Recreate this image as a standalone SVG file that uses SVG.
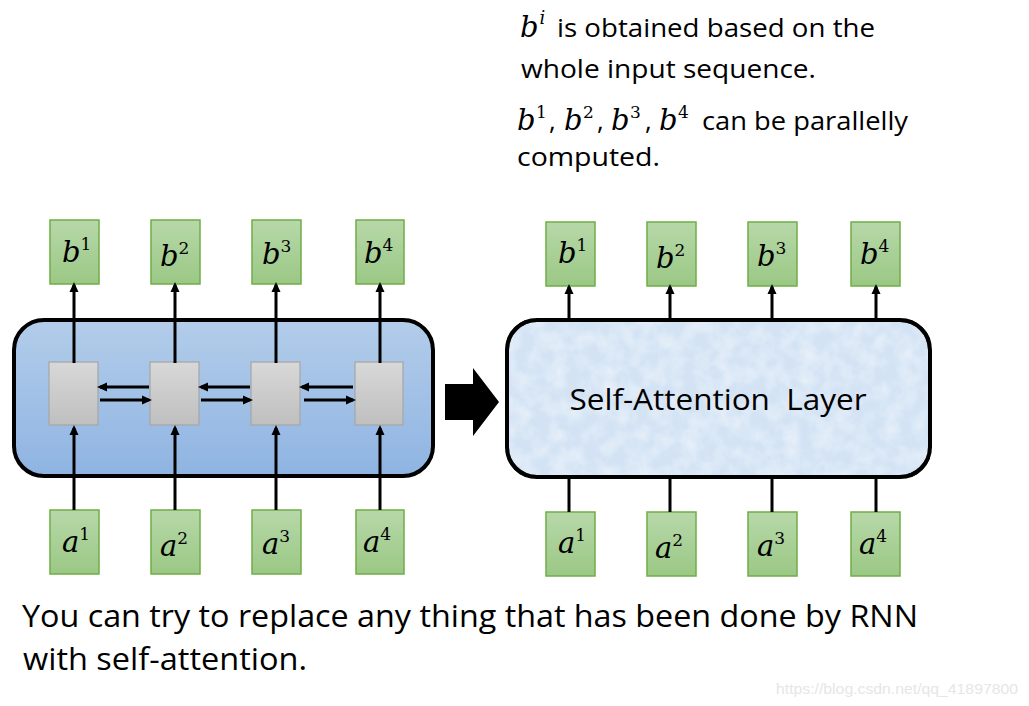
<svg xmlns="http://www.w3.org/2000/svg" width="1029" height="706" viewBox="0 0 1029 706">
<defs>
<linearGradient id="gGreen" x1="0" y1="0" x2="0" y2="1"><stop offset="0" stop-color="#b7d8a9"/><stop offset="1" stop-color="#9bc885"/></linearGradient>
<linearGradient id="gGray" x1="0" y1="0" x2="0" y2="1"><stop offset="0" stop-color="#d8d8d8"/><stop offset="1" stop-color="#bfbfbf"/></linearGradient>
<linearGradient id="gBlue" x1="0" y1="0" x2="0" y2="1"><stop offset="0" stop-color="#b3cdea"/><stop offset="1" stop-color="#8fb4e2"/></linearGradient>
<filter id="tex" x="0" y="0" width="1" height="1">
<feTurbulence type="fractalNoise" baseFrequency="0.06" numOctaves="3" seed="4" result="n"/>
<feColorMatrix in="n" type="matrix" values="0 0 0 0 0.95  0 0 0 0 0.97  0 0 0 0 1  0 0 0 0.9 -0.3" result="w"/>
<feComposite in="w" in2="SourceGraphic" operator="in" result="wc"/>
<feMerge><feMergeNode in="SourceGraphic"/><feMergeNode in="wc"/></feMerge>
</filter>
<marker id="ah" markerUnits="userSpaceOnUse" markerWidth="10" markerHeight="10" viewBox="0 0 10 10" refX="7" refY="5" orient="auto"><path d="M0,0.5 L10,5 L0,9.5 z" fill="#000"/></marker>
</defs>
<style>
.gb{fill:url(#gGreen);stroke:#70ad47;stroke-width:1.5}
.gr{fill:url(#gGray);stroke:#a6a6a6;stroke-width:1.2}
.m{font-family:"DejaVu Serif","Liberation Serif",serif;font-style:italic;font-size:29px;fill:#000}
.sp{font-style:normal;font-size:17px}
.spi{font-style:italic;font-size:18px}
.ln{stroke:#000;stroke-width:3;fill:none}
.arr{stroke:#000;stroke-width:3;fill:none;marker-end:url(#ah)}
.t{font-family:"Open Sans","Noto Sans",sans-serif;fill:#000}
</style>
<rect width="1029" height="706" fill="#fff"/>

<!-- left RNN block -->
<g id="rnn">
<rect x="14" y="320" width="419" height="156" rx="30" ry="30" fill="url(#gBlue)" stroke="#000" stroke-width="4"/>
</g>
<g id="r1"><rect class="gr" x="49" y="362" width="49" height="63"/></g>
<g id="r2"><rect class="gr" x="150" y="362" width="49" height="63"/></g>
<g id="r3"><rect class="gr" x="251" y="362" width="49" height="63"/></g>
<g id="r4"><rect class="gr" x="355" y="362" width="48" height="63"/></g>

<!-- self-attention block -->
<g id="sa">
<rect x="507" y="320" width="423" height="157" rx="30" ry="30" fill="#d3e3f4" stroke="#000" stroke-width="4" filter="url(#tex)"/>
<rect x="507" y="320" width="423" height="157" rx="30" ry="30" fill="none" stroke="#000" stroke-width="4"/>
<text class="t" x="718" y="410" font-size="30" text-anchor="middle" textLength="297" lengthAdjust="spacingAndGlyphs">Self-Attention&#160; Layer</text>
</g>

<!-- big arrow -->
<g id="bigArrow"><path d="M445,384 L473,384 L473,368 L499,402 L473,436 L473,420 L445,420 Z" fill="#000"/></g>

<!-- left outputs -->
<g id="lb1"><rect class="gb" x="50" y="220" width="49" height="64"/><text class="m" x="62" y="262">b<tspan class="sp" dy="-12">1</tspan></text></g>
<g id="lb2"><rect class="gb" x="151" y="220" width="49" height="64"/><text class="m" x="160" y="266">b<tspan class="sp" dy="-12">2</tspan></text></g>
<g id="lb3"><rect class="gb" x="252" y="220" width="49" height="64"/><text class="m" x="262" y="264">b<tspan class="sp" dy="-12">3</tspan></text></g>
<g id="lb4"><rect class="gb" x="356" y="220" width="48" height="64"/><text class="m" x="364" y="263">b<tspan class="sp" dy="-12">4</tspan></text></g>
<!-- left inputs -->
<g id="la1"><rect class="gb" x="50" y="510" width="49" height="64"/><text class="m" x="62" y="552">a<tspan class="sp" dy="-12">1</tspan></text></g>
<g id="la2"><rect class="gb" x="151" y="510" width="49" height="64"/><text class="m" x="160" y="556">a<tspan class="sp" dy="-12">2</tspan></text></g>
<g id="la3"><rect class="gb" x="252" y="510" width="49" height="64"/><text class="m" x="262" y="554">a<tspan class="sp" dy="-12">3</tspan></text></g>
<g id="la4"><rect class="gb" x="356" y="510" width="48" height="64"/><text class="m" x="363" y="552">a<tspan class="sp" dy="-12">4</tspan></text></g>

<!-- right outputs -->
<g id="rb1"><rect class="gb" x="546" y="222" width="49" height="64"/><text class="m" x="558" y="263">b<tspan class="sp" dy="-12">1</tspan></text></g>
<g id="rb2"><rect class="gb" x="647" y="222" width="49" height="64"/><text class="m" x="656" y="268">b<tspan class="sp" dy="-12">2</tspan></text></g>
<g id="rb3"><rect class="gb" x="748" y="222" width="49" height="64"/><text class="m" x="757" y="266">b<tspan class="sp" dy="-12">3</tspan></text></g>
<g id="rb4"><rect class="gb" x="851" y="222" width="49" height="64"/><text class="m" x="860" y="264">b<tspan class="sp" dy="-12">4</tspan></text></g>
<!-- right inputs -->
<g id="ra1"><rect class="gb" x="546" y="512" width="49" height="64"/><text class="m" x="558" y="553">a<tspan class="sp" dy="-12">1</tspan></text></g>
<g id="ra2"><rect class="gb" x="647" y="512" width="49" height="64"/><text class="m" x="655" y="558">a<tspan class="sp" dy="-12">2</tspan></text></g>
<g id="ra3"><rect class="gb" x="748" y="512" width="49" height="64"/><text class="m" x="757" y="556">a<tspan class="sp" dy="-12">3</tspan></text></g>
<g id="ra4"><rect class="gb" x="851" y="512" width="49" height="64"/><text class="m" x="859" y="554">a<tspan class="sp" dy="-12">4</tspan></text></g>

<!-- connectors -->
<g id="connectors">
<line class="arr" x1="74" y1="363" x2="74" y2="285"/>
<line class="arr" x1="175" y1="363" x2="175" y2="285"/>
<line class="arr" x1="276" y1="363" x2="276" y2="285"/>
<line class="arr" x1="380" y1="363" x2="380" y2="285"/>
<line class="arr" x1="74" y1="510" x2="74" y2="428"/>
<line class="arr" x1="175" y1="510" x2="175" y2="428"/>
<line class="arr" x1="276" y1="510" x2="276" y2="428"/>
<line class="arr" x1="380" y1="510" x2="380" y2="428"/>
<line class="arr" x1="149" y1="387" x2="100" y2="387"/>
<line class="arr" x1="100" y1="400" x2="149" y2="400"/>
<line class="arr" x1="250" y1="387" x2="201" y2="387"/>
<line class="arr" x1="201" y1="400" x2="250" y2="400"/>
<line class="arr" x1="353" y1="387" x2="302" y2="387"/>
<line class="arr" x1="304" y1="400" x2="353" y2="400"/>
<line class="arr" x1="569" y1="319" x2="569" y2="287"/>
<line class="arr" x1="670" y1="319" x2="670" y2="287"/>
<line class="arr" x1="772" y1="319" x2="772" y2="287"/>
<line class="arr" x1="876" y1="319" x2="876" y2="287"/>
<line class="ln" x1="569" y1="478" x2="569" y2="512"/>
<line class="ln" x1="670" y1="478" x2="670" y2="512"/>
<line class="ln" x1="772" y1="478" x2="772" y2="512"/>
<line class="ln" x1="876" y1="478" x2="876" y2="512"/>
</g>

<!-- top notes -->
<g id="notes">
<text class="m" x="520" y="37">b<tspan class="spi" dx="1" dy="-13">i</tspan></text>
<text class="t" x="557" y="37" font-size="26" textLength="318" lengthAdjust="spacingAndGlyphs">is obtained based on the</text>
<text class="t" x="521" y="78" font-size="26" textLength="295" lengthAdjust="spacingAndGlyphs">whole input sequence.</text>
<text class="m" x="517" y="130">b</text><text class="m sp" x="536" y="118">1</text><text class="t" x="549" y="130" font-size="26">,</text>
<text class="m" x="564" y="130">b</text><text class="m sp" x="583" y="118">2</text><text class="t" x="597" y="130" font-size="26">,</text>
<text class="m" x="611" y="130">b</text><text class="m sp" x="630" y="118">3</text><text class="t" x="645" y="130" font-size="26">,</text>
<text class="m" x="659" y="130">b</text><text class="m sp" x="678" y="118">4</text>
<text class="t" x="702" y="130" font-size="26" textLength="206" lengthAdjust="spacingAndGlyphs">can be parallelly</text>
<text class="t" x="517" y="166" font-size="26" textLength="143" lengthAdjust="spacingAndGlyphs">computed.</text>
</g>

<!-- bottom text -->
<g id="footer">
<text class="t" x="22" y="627" font-size="31" textLength="896" lengthAdjust="spacingAndGlyphs">You can try to replace any thing that has been done by RNN</text>
<text class="t" x="23" y="670" font-size="31" textLength="284" lengthAdjust="spacingAndGlyphs">with self-attention.</text>
<text x="776" y="694" font-family="Liberation Sans, Arial, sans-serif" font-size="14" fill="#e6e6e6" textLength="242" lengthAdjust="spacingAndGlyphs">https://blog.csdn.net/qq_41897800</text>
</g>
</svg>
